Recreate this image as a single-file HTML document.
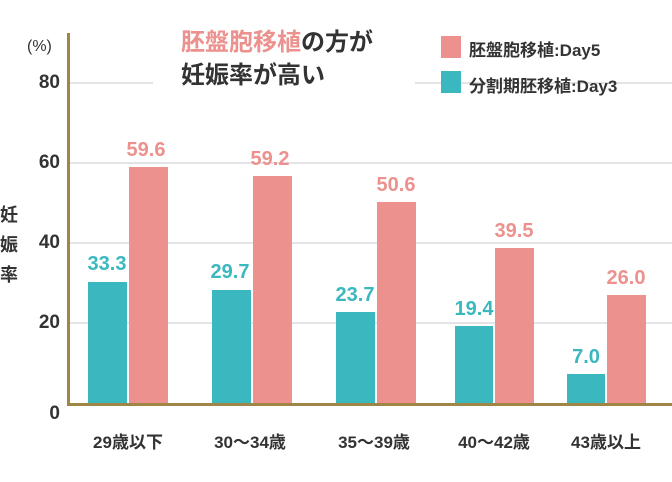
<!DOCTYPE html>
<html><head><meta charset="utf-8"><style>
body{margin:0;width:672px;height:482px;background:#fff;overflow:hidden;position:relative;font-family:"Liberation Sans","Noto Sans CJK JP",sans-serif;font-weight:bold;color:#333}
.a{position:absolute}
.g{position:absolute;left:70px;width:602px;height:2px;background:#e3e3e8}
.t{background:#3bb8bf}.p{background:#ec918d}
.tl{position:absolute;color:#3bb8bf;font-size:20px;text-align:center;width:60px}
.pl{position:absolute;color:#ec918d;font-size:20px;text-align:center;width:60px}
.yl{position:absolute;font-size:19px;text-align:right;width:30px;left:30px}
.xl{position:absolute;font-size:17px;text-align:center;width:120px;top:428px}
</style></head><body>
<div class="g" style="top:82px"></div>
<div class="g" style="top:162px"></div>
<div class="g" style="top:242px"></div>
<div class="g" style="top:322px"></div>
<div class="a" style="left:153px;top:22px;width:262px;height:75px;background:#fff"></div>
<div class="a" style="left:181px;top:26px;font-size:24px;line-height:33px"><span style="color:#ec918d">胚盤胞移植</span>の方が<br>妊娠率が高い</div>
<div class="a p" style="left:441px;top:36px;width:20px;height:22px"></div>
<div class="a t" style="left:441px;top:71px;width:20px;height:22px"></div>
<div class="a" style="left:469px;top:36px;font-size:17px">胚盤胞移植:Day5</div>
<div class="a" style="left:469px;top:72px;font-size:17px">分割期胚移植:Day3</div>
<div class="a" style="left:27px;top:38px;font-size:16px;font-weight:normal">(%)</div>
<div class="yl" style="top:72px">80</div>
<div class="yl" style="top:152px">60</div>
<div class="yl" style="top:232px">40</div>
<div class="yl" style="top:312px">20</div>
<div class="yl" style="top:403px">0</div>
<div class="a" style="left:0;top:200px;font-size:18px;line-height:30px">妊<br>娠<br>率</div>

<div class="a t" style="left:88px;top:282px;width:39px;height:122px"></div>
<div class="a p" style="left:129px;top:167px;width:39px;height:237px"></div>
<div class="a t" style="left:212px;top:290px;width:39px;height:114px"></div>
<div class="a p" style="left:253px;top:176px;width:39px;height:228px"></div>
<div class="a t" style="left:336px;top:312px;width:39px;height:92px"></div>
<div class="a p" style="left:377px;top:202px;width:39px;height:202px"></div>
<div class="a t" style="left:455px;top:326px;width:38px;height:78px"></div>
<div class="a p" style="left:495px;top:248px;width:39px;height:156px"></div>
<div class="a t" style="left:567px;top:374px;width:38px;height:30px"></div>
<div class="a p" style="left:607px;top:295px;width:39px;height:109px"></div>

<div class="tl" style="left:77px;top:253px">33.3</div>
<div class="pl" style="left:116px;top:139px">59.6</div>
<div class="tl" style="left:200px;top:261px">29.7</div>
<div class="pl" style="left:240px;top:148px">59.2</div>
<div class="tl" style="left:325px;top:284px">23.7</div>
<div class="pl" style="left:366px;top:174px">50.6</div>
<div class="tl" style="left:444px;top:298px">19.4</div>
<div class="pl" style="left:484px;top:220px">39.5</div>
<div class="tl" style="left:556px;top:346px">7.0</div>
<div class="pl" style="left:596px;top:267px">26.0</div>

<div class="a" style="left:67px;top:33px;width:3px;height:373px;background:#9f8647"></div>
<div class="a" style="left:67px;top:403px;width:605px;height:3px;background:#9f8647"></div>

<div class="xl" style="left:68px">29歳以下</div>
<div class="xl" style="left:190px">30〜34歳</div>
<div class="xl" style="left:314px">35〜39歳</div>
<div class="xl" style="left:434px">40〜42歳</div>
<div class="xl" style="left:546px">43歳以上</div>
</body></html>
